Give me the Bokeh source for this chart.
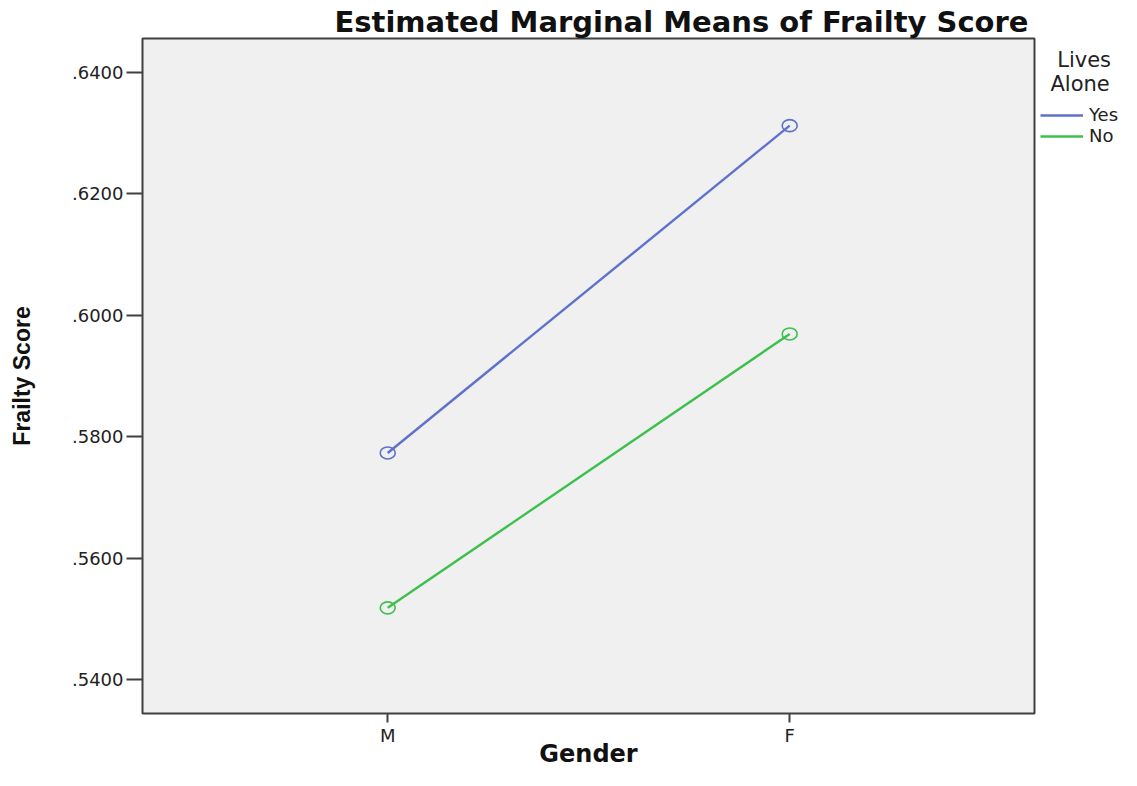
from bokeh.plotting import figure
from bokeh.models import Range1d, FixedTicker, Legend, LegendItem, Title
from bokeh.embed import file_html
from bokeh.resources import INLINE

# ---- data ----
genders = ["M", "F"]
gender_pos = [0, 1]
yes_means = [0.5773, 0.6312]
no_means = [0.5518, 0.5969]
series_names = ["Yes", "No"]
legend_title = "\u2002\u00a0Lives\n\u2002Alone"
y_ticks = [0.54, 0.56, 0.58, 0.60, 0.62, 0.64]
y_tick_labels = [".5400", ".5600", ".5800", ".6000", ".6200", ".6400"]

blue = "#5E72CC"
green = "#3EC04E"

p = figure(frame_width=892, frame_height=675, output_backend="svg",
           toolbar_location=None,
           x_range=Range1d(-0.610, 1.609), y_range=Range1d(0.5344, 0.64555),
           min_border_left=142, min_border_right=87, min_border_top=38,
           min_border_bottom=57)

p.background_fill_color = "#F0F0F0"
p.border_fill_color = "white"
p.outline_line_color = "#404040"
p.outline_line_width = 2
p.grid.visible = False

# title
p.title = Title(text="Estimated Marginal Means of Frailty Score", align="left",
                offset=192, standoff=0, text_font="DejaVu Sans",
                text_font_style="bold", text_font_size="29px",
                text_color="#111111")

# axes
p.xaxis.ticker = FixedTicker(ticks=gender_pos)
p.xaxis.major_label_overrides = {pos: g for pos, g in zip(gender_pos, genders)}
p.yaxis.ticker = FixedTicker(ticks=y_ticks)
p.yaxis.major_label_overrides = {t: l for t, l in zip(y_ticks, y_tick_labels)}
for ax in (p.xaxis, p.yaxis):
    ax.axis_line_color = None
    ax.minor_tick_line_color = None
    ax.major_tick_in = 0
    ax.major_tick_line_color = "#404040"
    ax.major_tick_line_width = 2
    ax.major_label_text_font = "DejaVu Sans"
    ax.major_label_text_font_size = "18px"
    ax.major_label_text_color = "#222222"
    ax.axis_label_text_font_style = "bold"
    ax.axis_label_text_color = "#111111"
p.yaxis.major_tick_out = 16
p.yaxis.major_label_standoff = 3
p.xaxis.major_tick_out = 9
p.xaxis.major_label_standoff = 2

p.xaxis.axis_label = "Gender"
p.xaxis.axis_label_text_font = "DejaVu Sans"
p.xaxis.axis_label_text_font_size = "24px"
p.xaxis.axis_label_standoff = -9
p.yaxis.axis_label = "Frailty Score"
p.yaxis.axis_label_text_font = "Liberation Sans"
p.yaxis.axis_label_text_font_size = "23px"
p.yaxis.axis_label_standoff = 34

# series
r_yes = p.line(gender_pos, yes_means, line_color=blue, line_width=2.4)
p.ellipse(gender_pos, yes_means, width=15, height=12, width_units="screen",
          height_units="screen", fill_color=None, line_color=blue, line_width=1.6)
r_no = p.line(gender_pos, no_means, line_color=green, line_width=2.4)
p.ellipse(gender_pos, no_means, width=15, height=12, width_units="screen",
          height_units="screen", fill_color=None, line_color=green, line_width=1.6)

# legend
legend = Legend(items=[LegendItem(label=series_names[0], renderers=[r_yes]),
                       LegendItem(label=series_names[1], renderers=[r_no])],
                title=legend_title, title_text_font="DejaVu Sans",
                title_text_font_size="21px", title_text_font_style="normal",
                title_text_color="#222222", title_standoff=8,
                location=(6, 567), glyph_width=43, glyph_height=20,
                label_height=20, spacing=0, label_standoff=6, padding=0, margin=0,
                border_line_color=None, background_fill_alpha=0,
                label_text_font="DejaVu Sans", label_text_font_size="18px",
                label_text_color="#222222")
p.add_layout(legend, "right")

open("out.html", "w").write(file_html(p, INLINE))
